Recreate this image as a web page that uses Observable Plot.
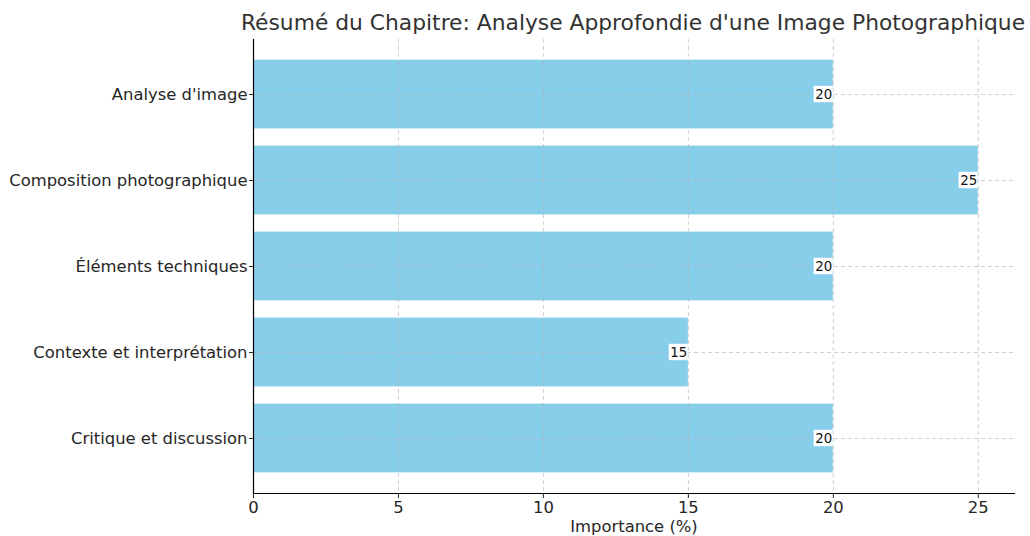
<!DOCTYPE html>
<html><head><meta charset="utf-8">
<script src="https://cdn.jsdelivr.net/npm/d3@7"></script>
<script src="https://cdn.jsdelivr.net/npm/@observablehq/plot@0.6"></script>
<style>
body{margin:0;background:#fff;font-family:"DejaVu Sans",sans-serif}
#title{position:relative;width:1030px;height:39px}
#title span{position:absolute;left:633px;top:10px;transform:translateX(-50%);white-space:nowrap;font-size:21.8px;line-height:26px;color:#333}
</style></head><body>
<div id="title"><span>Résumé du Chapitre: Analyse Approfondie d'une Image Photographique</span></div>
<div id="chart"></div>
<script>
const categories = ["Analyse d'image", "Composition photographique", "Éléments techniques", "Contexte et interprétation", "Critique et discussion"];
const importance = [20, 25, 20, 15, 20];
const xTicks = [0, 5, 10, 15, 20, 25];
const xLabel = "Importance (%)";

const data = categories.map((c, i) => ({category: c, value: importance[i]}));

const chart = Plot.plot({
  width: 1030, height: 497,
  marginLeft: 253, marginRight: 16, marginTop: 0, marginBottom: 43,
  style: {fontFamily: "DejaVu Sans", fontSize: "16.4px", color: "#262626", background: "#fff"},
  x: {domain: [0, 26.25]},
  y: {domain: categories, paddingInner: 0.2, paddingOuter: 0.24, round: false},
  marks: [
    Plot.barX(data, {x: "value", y: "category", fill: "#87CEEB"}),
    Plot.gridX(xTicks, {stroke: "#b0b0b0", strokeOpacity: 0.6, strokeDasharray: "4,3"}),
    Plot.gridY({stroke: "#b0b0b0", strokeOpacity: 0.6, strokeDasharray: "4,3"}),
    Plot.barX(data, {x1: d => d.value - 0.66, x2: "value", y: "category", fill: "white", insetTop: 26.2, insetBottom: 26.2}),
    Plot.text(data, {x: "value", y: "category", text: d => String(d.value), textAnchor: "end", dx: -1, fontSize: 13.4, fill: "#111"}),
    Plot.frame({anchor: "left", stroke: "#000", strokeWidth: 1.2}),
    Plot.frame({anchor: "bottom", stroke: "#000", strokeWidth: 1.2}),
    Plot.axisX(xTicks, {tickSize: 5, tickPadding: 3, label: xLabel, labelAnchor: "center", labelArrow: "none", labelOffset: 38, fontSize: 16.4}),
    Plot.axisY({tickSize: 4, tickPadding: 2, label: null, fontSize: 16.4})
  ]
});
document.getElementById("chart").appendChild(chart);
</script>
</body></html>
